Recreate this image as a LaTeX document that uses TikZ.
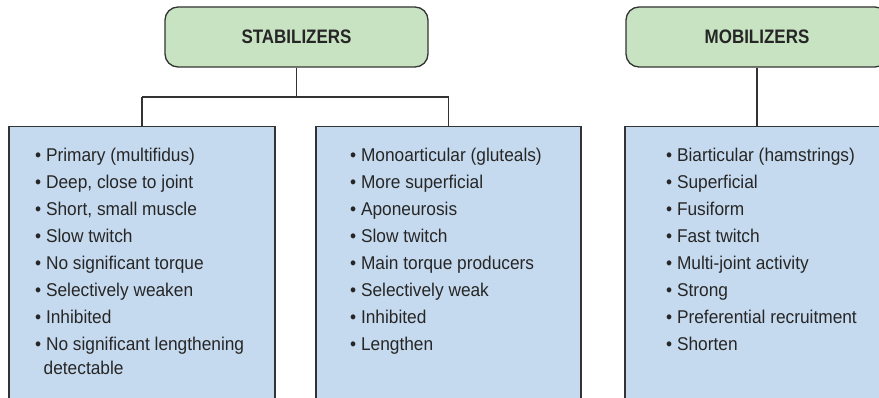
\documentclass[tikz,border=0pt]{standalone}
\usepackage{fontspec}
\setmainfont{Liberation Sans}
\newfontfamily\bodyfont[FakeStretch=0.935]{Liberation Sans}
\newfontfamily\headfont[FakeStretch=0.87]{Liberation Sans Bold}
\definecolor{headfill}{HTML}{C8E3C1}
\definecolor{boxfill}{HTML}{C6DAEF}
\definecolor{edge}{HTML}{333333}
\tikzset{
  head/.style={draw=edge, line width=1.3pt, fill=headfill, rounded corners=13pt,
    minimum height=60pt, inner sep=0pt, font=\headfont\fontsize{19.5}{20}\selectfont, text=black!85},
  listbox/.style={draw=edge, line width=1.3pt, fill=boxfill, anchor=north,
    minimum height=300pt, inner sep=0pt},
  item/.style={anchor=base west, inner sep=0pt, font=\bodyfont\fontsize{18.5}{20}\selectfont, text=black!85},
  link/.style={draw=edge, line width=1.1pt}
}
\begin{document}
\begin{tikzpicture}[x=1pt,y=-1pt]
\useasboundingbox (0,0) rectangle (879,398);
\clip (0,0) rectangle (879,398);
% headers
\node[head, minimum width=263pt] (stab) at (296.5,37) {STABILIZERS};
\node[head, minimum width=262pt] (mob) at (757,37) {MOBILIZERS};
% boxes
\node[listbox, minimum width=266pt] (b1) at (142,126) {};
\node[listbox, minimum width=265pt] (b2) at (448.5,126) {};
\node[listbox, minimum width=266pt] (b3) at (758,126) {};
% connectors
\coordinate (j) at (296.5,97);
\draw[link] (stab.south) -- (j);
\draw[link] (b1.north |- j) -- (b2.north |- j);
\draw[link] (b1.north |- j) -- (b1.north);
\draw[link] (b2.north |- j) -- (b2.north);
\draw[link] (mob.south) -- (mob.south |- b3.north);
% texts
\foreach \t [count=\i] in {Primary (multifidus),{Deep, close to joint},{Short, small muscle},Slow twitch,No significant torque,Selectively weaken,Inhibited,No significant lengthening}
  \node[item] (s\i) at (35,{162+26.9*(\i-1)}) {\textbullet\ \t};
\node[item] (s9) at (43.5,374) {detectable};
\foreach \t [count=\i] in {Monoarticular (gluteals),More superficial,Aponeurosis,Slow twitch,Main torque producers,Selectively weak,Inhibited,Lengthen}
  \node[item] (m\i) at (350,{162+26.9*(\i-1)}) {\textbullet\ \t};
\foreach \t [count=\i] in {Biarticular (hamstrings),Superficial,Fusiform,Fast twitch,Multi-joint activity,Strong,Preferential recruitment,Shorten}
  \node[item] (r\i) at (666,{162+26.9*(\i-1)}) {\textbullet\ \t};
\end{tikzpicture}
\end{document}
